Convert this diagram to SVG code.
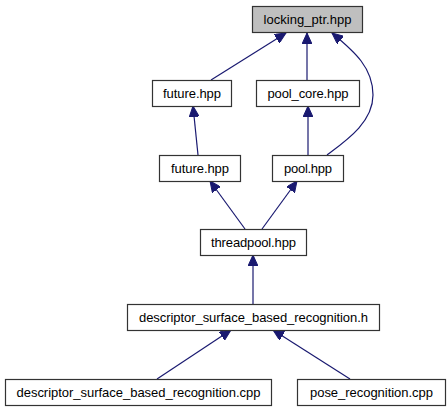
<svg xmlns="http://www.w3.org/2000/svg" width="447" height="411" viewBox="0 0 447 411">
<defs>
<marker id="ah" markerUnits="userSpaceOnUse" markerWidth="12" markerHeight="10" refX="11" refY="5" orient="auto">
<path d="M0,0 L11,5 L0,10 Z" fill="#191970" stroke="#191970" stroke-width="1"/>
</marker>
<style>
.n rect{fill:#fff;stroke:#333;stroke-width:1.2}
.n text{font-family:"Liberation Sans",Arial,sans-serif;font-size:13px;fill:#000;text-anchor:middle}
#edges path{fill:none;stroke:#191970;stroke-width:1.2;marker-end:url(#ah)}
</style>
</defs>
<rect width="447" height="411" fill="#fff"/>
<g id="edges">
<path d="M211,80 L286,33"/>
<path d="M307,80 L307,33"/>
<path d="M327,155 C347,140 373,122 373,95 C373,68 355,52 332,33"/>
<path d="M198,155 L193,106"/>
<path d="M308,155 L308,106"/>
<path d="M245,229 L210,181"/>
<path d="M262,229 L297,181"/>
<path d="M253,304 L253,255"/>
<path d="M157,379 L231,330"/>
<path d="M350,379 L273,330"/>
</g>
<g id="locking_ptr" class="n"><rect x="252.5" y="6.5" width="110" height="26" style="fill:#bfbfbf"/><text x="307.5" y="23.5" textLength="88" lengthAdjust="spacing">locking_ptr.hpp</text></g>
<g id="future_top" class="n"><rect x="152.5" y="80.5" width="79" height="26"/><text x="192" y="97.5" textLength="58" lengthAdjust="spacing">future.hpp</text></g>
<g id="pool_core" class="n"><rect x="256.5" y="80.5" width="103" height="26"/><text x="308" y="97.5" textLength="81" lengthAdjust="spacing">pool_core.hpp</text></g>
<g id="future_mid" class="n"><rect x="159.5" y="155.5" width="81" height="26"/><text x="200" y="172.5" textLength="58" lengthAdjust="spacing">future.hpp</text></g>
<g id="pool" class="n"><rect x="272.5" y="155.5" width="71" height="26"/><text x="308" y="172.5" textLength="48" lengthAdjust="spacing">pool.hpp</text></g>
<g id="threadpool" class="n"><rect x="200.5" y="229.5" width="106" height="26"/><text x="253.5" y="246.5" textLength="85" lengthAdjust="spacing">threadpool.hpp</text></g>
<g id="desc_h" class="n"><rect x="127.5" y="304.5" width="252" height="26"/><text x="253.5" y="321.5" textLength="229" lengthAdjust="spacing">descriptor_surface_based_recognition.h</text></g>
<g id="desc_cpp" class="n"><rect x="5.5" y="379.5" width="266" height="26"/><text x="138.5" y="396.5" textLength="244" lengthAdjust="spacing">descriptor_surface_based_recognition.cpp</text></g>
<g id="pose_cpp" class="n"><rect x="297.5" y="379.5" width="148" height="26"/><text x="371.5" y="396.5" textLength="123" lengthAdjust="spacing">pose_recognition.cpp</text></g>
</svg>
